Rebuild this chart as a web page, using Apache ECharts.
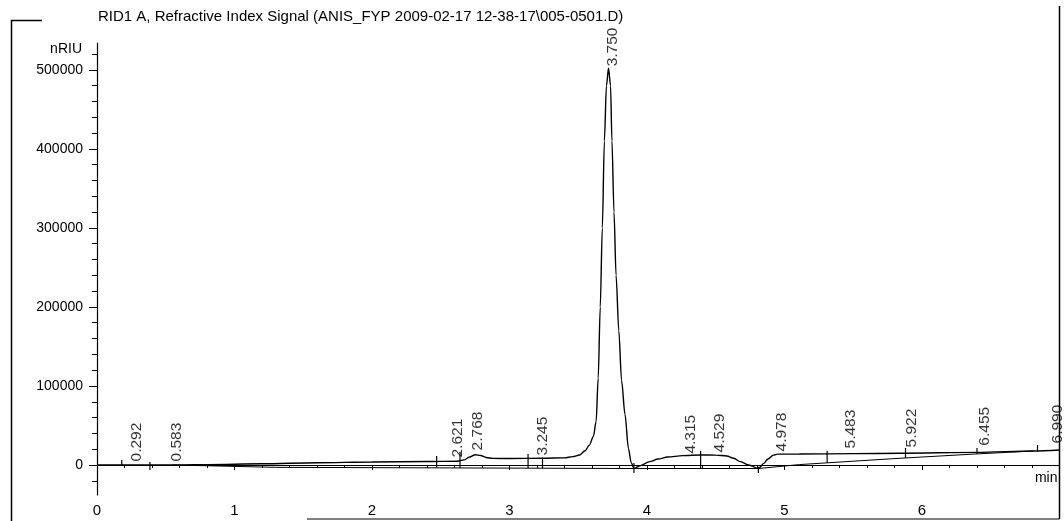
<!DOCTYPE html>
<html><head><meta charset="utf-8">
<script src="https://cdn.jsdelivr.net/npm/echarts@6/dist/echarts.min.js"></script>
<style>html,body{margin:0;padding:0;background:#fff}#c{width:1064px;height:521px}</style>
</head><body><div id="c"></div>
<script>
const titleText = 'RID1 A, Refractive Index Signal (ANIS_FYP 2009-02-17 12-38-17\\005-0501.D)';
const yAxisName = 'nRIU';
const xAxisName = 'min';

// x tick labels (min) and y tick labels (nRIU)
const xLabelValues = [0, 1, 2, 3, 4, 5, 6];
const yLabelValues = [0, 100000, 200000, 300000, 400000, 500000];
const yMinorValues = [-20000, 20000, 40000, 60000, 80000, 120000, 140000, 160000, 180000,
  220000, 240000, 260000, 280000, 320000, 340000, 360000, 380000,
  420000, 440000, 460000, 480000, 520000];

// detector signal (time in min, signal in nRIU)
const signalTime = [0, 0.3, 0.6, 0.8, 1.2, 1.6, 2.0, 2.4, 2.62, 2.67, 2.71, 2.75, 2.79, 2.83, 2.88, 3.0,
  3.245, 3.40, 3.46, 3.51, 3.55, 3.58, 3.61, 3.63, 3.645, 3.66, 3.675, 3.69, 3.705, 3.72, 3.735,
  3.745, 3.76, 3.775, 3.795, 3.815, 3.84, 3.865, 3.885, 3.905, 3.95, 4.02, 4.08, 4.15, 4.26, 4.39,
  4.50, 4.58, 4.63, 4.68, 4.74, 4.81, 4.85, 4.88, 4.92, 4.95, 5.11, 5.5, 5.84, 6.4, 6.81, 7.0];
const signalValue = [0, 0, 0, 500, 1500, 2800, 3800, 4300, 4800, 6500, 10000, 13000, 12000, 9500, 8300, 8200,
  8500, 9000, 10500, 12700, 18000, 25000, 36000, 55000, 110000, 200000, 300000, 410000, 480000, 502000, 480000,
  410000, 320000, 240000, 170000, 107000, 64000, 21000, 3000, -4500, -1000, 4200, 7500, 10000, 11800, 12700,
  12500, 11400, 8500, 4200, 0, -4500, 2000, 7500, 12500, 13700, 13800, 14300, 14800, 16000, 17700, 19000];

// integration baseline
const baselineTime = [0.55, 1.3, 3.905, 4.81, 5.11, 5.84, 6.4, 6.81];
const baselineValue = [0, -3000, -4500, -4500, 500, 8500, 14000, 17700];

// peak start/stop markers
const dropTime = [0.18, 0.385, 2.47, 2.64, 3.135, 3.24, 3.905, 4.39, 4.81, 5.31, 5.88, 6.4, 6.84];
const dropLow  = [0, -6300, -3600, -3700, -4000, -4000, -10100, -5000, -10100, 2800, 8900, 14000, 17000];
const dropHigh = [6300, 3800, 11400, 16800, 13900, 9200, 2500, 18100, -2200, 18100, 21500, 21500, 25300];

// peak retention time labels
const peakTime   = [0.292, 0.583, 2.621, 2.768, 3.245, 3.750, 4.315, 4.529, 4.978, 5.483, 5.922, 6.455, 6.990];
const peakText   = ['0.292', '0.583', '2.621', '2.768', '3.245', '3.750', '4.315', '4.529', '4.978', '5.483', '5.922', '6.455', '6.990'];
const peakHeight = [0, 0, 5000, 14000, 7600, 500000, 10000, 11400, 12700, 16500, 17700, 20000, 22800];

const FONT = '"Liberation Sans", Arial, sans-serif';
const BLACK = '#000';

const chart = echarts.init(document.getElementById('c'), null, {renderer: 'canvas'});

const signalData = signalTime.map((t, i) => [t, signalValue[i]]);
const baselineData = baselineTime.map((t, i) => [t, baselineValue[i]]);
const dropData = dropTime.map((t, i) => [t, dropLow[i], dropHigh[i]]);
const labelData = peakTime.map((t, i) => [t, peakHeight[i], peakText[i]]);

chart.setOption({
  animation: false,
  backgroundColor: '#fff',
  title: {
    text: titleText, left: 98, top: 9, padding: 0,
    textStyle: {fontFamily: FONT, fontSize: 15, fontWeight: 'normal', color: BLACK}
  },
  grid: {left: 97, right: 4.5, top: 43, bottom: 26, containLabel: false},
  xAxis: {
    type: 'value', min: 0, max: 7, interval: 1,
    axisLine: {show: true, lineStyle: {color: BLACK, width: 1.2}},
    axisTick: {show: true, length: 5, lineStyle: {color: BLACK}},
    minorTick: {show: true, splitNumber: 5, length: 3, lineStyle: {color: BLACK}},
    axisLabel: {customValues: xLabelValues, color: BLACK, fontFamily: FONT, fontSize: 15, margin: 8,
      formatter: v => String(v)},
    splitLine: {show: false},
    name: xAxisName, nameLocation: 'end', nameGap: -2,
    nameTextStyle: {align: 'right', verticalAlign: 'top', padding: [6, 0, 0, 0], fontFamily: FONT, fontSize: 14, color: BLACK}
  },
  yAxis: [{
    type: 'value', min: -38000, max: 534000, position: 'left',
    axisLine: {show: true, lineStyle: {color: BLACK, width: 1.2}},
    axisTick: {show: true, length: 8, customValues: yLabelValues, lineStyle: {color: BLACK}},
    axisLabel: {customValues: yLabelValues, color: BLACK, fontFamily: FONT, fontSize: 14, margin: 14,
      formatter: v => String(v)},
    splitLine: {show: false},
    name: yAxisName, nameLocation: 'end', nameGap: -6,
    nameTextStyle: {align: 'right', verticalAlign: 'middle', padding: [0, 15, 0, 0], fontFamily: FONT, fontSize: 14, color: BLACK}
  }, {
    type: 'value', min: -38000, max: 534000, position: 'left', offset: 0,
    axisLine: {show: false},
    axisTick: {show: true, length: 5, customValues: yMinorValues, lineStyle: {color: BLACK}},
    axisLabel: {show: false},
    splitLine: {show: false}
  }],
  series: [{
    type: 'line', data: baselineData, showSymbol: false, silent: true,
    lineStyle: {color: BLACK, width: 1}, z: 2
  }, {
    type: 'line', data: signalData, showSymbol: false, silent: true,
    smooth: 0.3, smoothMonotone: 'x',
    lineStyle: {color: BLACK, width: 1.4}, z: 3
  }, {
    type: 'custom', data: dropData, silent: true, z: 4,
    encode: {x: 0, y: [1, 2]},
    renderItem: function (params, api) {
      const a = api.coord([api.value(0), api.value(1)]);
      const b = api.coord([api.value(0), api.value(2)]);
      return {type: 'line', shape: {x1: a[0], y1: a[1], x2: b[0], y2: b[1]},
        style: {stroke: BLACK, lineWidth: 1.2}};
    }
  }, {
    type: 'scatter', data: labelData, symbol: 'circle', symbolSize: 1, silent: true, z: 5,
    itemStyle: {color: 'rgba(0,0,0,0)'},
    label: {
      show: true, position: 'top', distance: 3, rotate: 90,
      align: 'left', verticalAlign: 'middle',
      formatter: p => p.data[2],
      color: BLACK, fontFamily: FONT, fontSize: 15.5
    },
    labelLayout: {hideOverlap: false}
  }],
  graphic: [
    {type: 'polyline', silent: true, shape: {points: [[42, 20.5], [11.5, 20.5], [11.5, 521]]},
      style: {stroke: BLACK, lineWidth: 1.5, fill: null}},
    {type: 'line', silent: true, shape: {x1: 1059.5, y1: 6, x2: 1059.5, y2: 519},
      style: {stroke: BLACK, lineWidth: 1.5}},
    {type: 'line', silent: true, shape: {x1: 307, y1: 519, x2: 1059.5, y2: 519},
      style: {stroke: BLACK, lineWidth: 1.2}}
  ]
});
</script>
</body></html>
